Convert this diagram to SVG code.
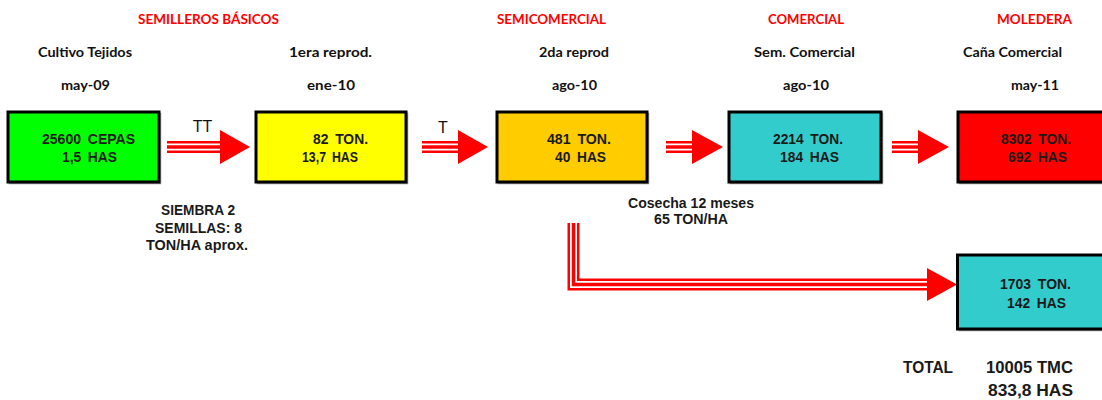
<svg xmlns="http://www.w3.org/2000/svg" xmlns:xlink="http://www.w3.org/1999/xlink" width="1102" height="400" viewBox="0 0 1102 400">
<style>
.hdr{font-family:Lato,"Liberation Sans",sans-serif;font-weight:bold;font-size:14px;fill:#ff0000;text-anchor:middle}
.lbl{font-family:Lato,"Liberation Sans",sans-serif;font-weight:bold;font-size:14px;fill:#111;text-anchor:middle}
.box{stroke:#000;stroke-width:3}
.shadow{fill:none;stroke:#9a9a9a;stroke-width:1.5}
.bt{font-family:"Liberation Sans",Arial,sans-serif;font-weight:bold;font-size:14.5px;fill:#1a1a1a;text-anchor:middle;word-spacing:3px}
.note{font-family:"Liberation Sans",Arial,sans-serif;font-weight:bold;font-size:14px;fill:#1a1a1a;text-anchor:middle}
.tot{font-family:"Liberation Sans",Arial,sans-serif;font-weight:bold;font-size:17px;fill:#1a1a1a;text-anchor:middle}
.tt{font-family:"Liberation Sans",Arial,sans-serif;font-size:16px;fill:#111;text-anchor:middle}
.s1{fill:none;stroke:#ff0000;stroke-width:12}
.s2{fill:none;stroke:#ffffff;stroke-width:7}
.s3{fill:none;stroke:#ff0000;stroke-width:3.5}
.head{fill:#ff0000}
</style>
<defs>
<path id="p1" d="M167 147 H221"/>
<path id="p2" d="M422 147 H459"/>
<path id="p3" d="M666 147 H694"/>
<path id="p4" d="M892 147 H919"/>
<path id="p5" d="M573.5 223 V284.5 H928"/>
</defs>

<g id="headers">
<text class="hdr" x="208.5" y="24" textLength="141" lengthAdjust="spacingAndGlyphs">SEMILLEROS BÁSICOS</text>
<text class="hdr" x="551.5" y="24" textLength="109" lengthAdjust="spacingAndGlyphs">SEMICOMERCIAL</text>
<text class="hdr" x="806" y="24" textLength="76" lengthAdjust="spacingAndGlyphs">COMERCIAL</text>
<text class="hdr" x="1034.5" y="24" textLength="75" lengthAdjust="spacingAndGlyphs">MOLEDERA</text>
</g>

<g id="stage-labels">
<text class="lbl" x="85" y="57" textLength="94" lengthAdjust="spacingAndGlyphs">Cultivo Tejidos</text>
<text class="lbl" x="330.5" y="57" textLength="83" lengthAdjust="spacingAndGlyphs">1era reprod.</text>
<text class="lbl" x="574" y="57" textLength="70" lengthAdjust="spacingAndGlyphs">2da reprod</text>
<text class="lbl" x="804.5" y="57" textLength="101" lengthAdjust="spacingAndGlyphs">Sem. Comercial</text>
<text class="lbl" x="1012.5" y="57" textLength="99" lengthAdjust="spacingAndGlyphs">Caña Comercial</text>
<text class="lbl" x="85.5" y="90" textLength="49" lengthAdjust="spacingAndGlyphs">may-09</text>
<text class="lbl" x="331" y="90" textLength="48" lengthAdjust="spacingAndGlyphs">ene-10</text>
<text class="lbl" x="574.5" y="90" textLength="45" lengthAdjust="spacingAndGlyphs">ago-10</text>
<text class="lbl" x="806" y="90" textLength="46" lengthAdjust="spacingAndGlyphs">ago-10</text>
<text class="lbl" x="1035" y="90" textLength="48" lengthAdjust="spacingAndGlyphs">may-11</text>
</g>

<g id="connectors">
<g id="c1"><use xlink:href="#p1" class="s1"/><use xlink:href="#p1" class="s2"/><use xlink:href="#p1" class="s3"/><polygon class="head" points="220,130 250,147 220,164"/></g>
<g id="c2"><use xlink:href="#p2" class="s1"/><use xlink:href="#p2" class="s2"/><use xlink:href="#p2" class="s3"/><polygon class="head" points="458,130 488,147 458,164"/></g>
<g id="c3"><use xlink:href="#p3" class="s1"/><use xlink:href="#p3" class="s2"/><use xlink:href="#p3" class="s3"/><polygon class="head" points="692,130 723,147 692,164"/></g>
<g id="c4"><use xlink:href="#p4" class="s1"/><use xlink:href="#p4" class="s2"/><use xlink:href="#p4" class="s3"/><polygon class="head" points="918,130 949,147 918,164"/></g>
<g id="c5"><use xlink:href="#p5" class="s1"/><use xlink:href="#p5" class="s2"/><use xlink:href="#p5" class="s3"/><polygon class="head" points="927,268 957,284.5 927,301"/></g>
<text class="tt" x="202.5" y="132">TT</text>
<text class="tt" x="443" y="133">T</text>
</g>

<g id="n1">
<rect class="shadow" x="9.5" y="113.5" width="151" height="70"/>
<rect class="box" x="8" y="112" width="151" height="70" fill="#00ff00"/>
<text class="bt" x="88.5" y="144" textLength="93" lengthAdjust="spacingAndGlyphs">25600 CEPAS</text>
<text class="bt" x="89.5" y="162" textLength="55" lengthAdjust="spacingAndGlyphs">1,5 HAS</text>
</g>
<g id="n2">
<rect class="shadow" x="257.5" y="113.5" width="150" height="70"/>
<rect class="box" x="256" y="112" width="150" height="70" fill="#ffff00"/>
<text class="bt" x="340.5" y="144" textLength="55" lengthAdjust="spacingAndGlyphs">82 TON.</text>
<text class="bt" x="330" y="162" textLength="56" lengthAdjust="spacingAndGlyphs">13,7 HAS</text>
</g>
<g id="n3">
<rect class="shadow" x="498.5" y="113.5" width="150" height="70"/>
<rect class="box" x="497" y="112" width="150" height="70" fill="#ffcc00"/>
<text class="bt" x="579" y="144" textLength="64" lengthAdjust="spacingAndGlyphs">481 TON.</text>
<text class="bt" x="580.5" y="162" textLength="51" lengthAdjust="spacingAndGlyphs">40 HAS</text>
</g>
<g id="n4">
<rect class="shadow" x="730.5" y="113.5" width="152" height="70"/>
<rect class="box" x="729" y="112" width="152" height="70" fill="#33cccc"/>
<text class="bt" x="808" y="144" textLength="70" lengthAdjust="spacingAndGlyphs">2214 TON.</text>
<text class="bt" x="809.5" y="162" textLength="59" lengthAdjust="spacingAndGlyphs">184 HAS</text>
</g>
<g id="n5">
<rect class="shadow" x="959.5" y="113.5" width="160" height="70"/>
<rect class="box" x="958" y="112" width="160" height="70" fill="#ff0000"/>
<text class="bt" x="1036" y="144" textLength="70" lengthAdjust="spacingAndGlyphs">8302 TON.</text>
<text class="bt" x="1037.5" y="162" textLength="59" lengthAdjust="spacingAndGlyphs">692 HAS</text>
</g>
<g id="n6">
<rect class="shadow" x="959" y="256.5" width="160" height="74"/>
<rect class="box" x="957.5" y="255" width="160" height="74" fill="#33cccc"/>
<text class="bt" x="1035.5" y="289" textLength="71" lengthAdjust="spacingAndGlyphs">1703 TON.</text>
<text class="bt" x="1036.5" y="308" textLength="59" lengthAdjust="spacingAndGlyphs">142 HAS</text>
</g>

<g id="notes">
<text class="note" x="198" y="215" textLength="74" lengthAdjust="spacingAndGlyphs">SIEMBRA 2</text>
<text class="note" x="198.5" y="233" textLength="87" lengthAdjust="spacingAndGlyphs">SEMILLAS: 8</text>
<text class="note" x="197" y="250" textLength="102" lengthAdjust="spacingAndGlyphs">TON/HA aprox.</text>
<text class="note" x="691" y="208" textLength="126" lengthAdjust="spacingAndGlyphs">Cosecha 12 meses</text>
<text class="note" x="691" y="224" textLength="74" lengthAdjust="spacingAndGlyphs">65 TON/HA</text>
</g>

<g id="total">
<text class="tot" x="928" y="373" textLength="50" lengthAdjust="spacingAndGlyphs">TOTAL</text>
<text class="tot" x="1029.5" y="373" textLength="87" lengthAdjust="spacingAndGlyphs">10005 TMC</text>
<text class="tot" x="1030.5" y="396" textLength="85" lengthAdjust="spacingAndGlyphs">833,8 HAS</text>
</g>
</svg>
